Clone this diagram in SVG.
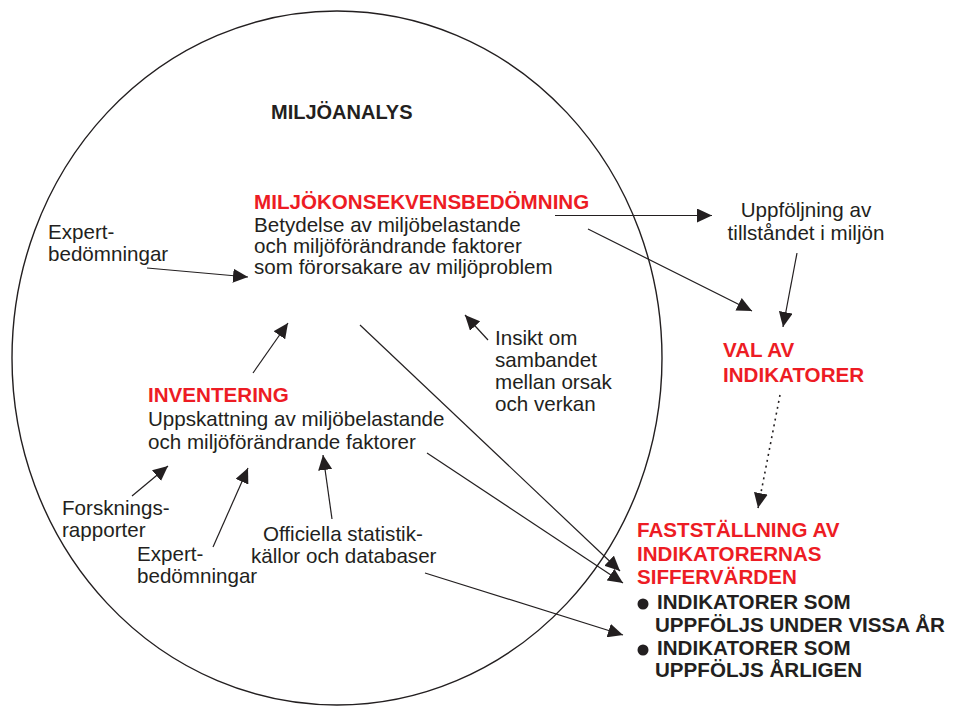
<svg xmlns="http://www.w3.org/2000/svg" width="955" height="706" viewBox="0 0 955 706">
  <defs>
    <marker id="head" markerUnits="userSpaceOnUse" markerWidth="16" markerHeight="14" refX="15" refY="7" orient="auto">
      <path d="M0,0 L15,7 L0,14 Z" fill="#231f20"/>
    </marker>
    <style>
      text { font-family: "Liberation Sans", Arial, sans-serif; font-size: 20.6px; fill: #231f20; }
      .red { fill: #ed1c24; font-weight: bold; }
      .bold { font-weight: bold; }
      .conn line { stroke: #231f20; stroke-width: 1.2; fill: none; marker-end: url(#head); }
      .dotted { stroke-dasharray: 2 4; stroke-width: 1.6 !important; }
    </style>
  </defs>
  <rect width="955" height="706" fill="#ffffff"/>

  <!-- environmental analysis boundary -->
  <g id="miljoanalys">
    <ellipse cx="337" cy="358" rx="325" ry="347" fill="none" stroke="#231f20" stroke-width="1.4"/>
    <text class="bold" x="271" y="119" style="font-size:20px">MILJÖANALYS</text>
  </g>

  <g id="konsekvens">
    <text class="red" x="254" y="209">MILJÖKONSEKVENSBEDÖMNING</text>
    <text x="254" y="232">Betydelse av miljöbelastande</text>
    <text x="254" y="253">och miljöförändrande faktorer</text>
    <text x="254" y="274">som förorsakare av miljöproblem</text>
  </g>

  <g id="expert-top">
    <text x="48" y="239">Expert-</text>
    <text x="48" y="261">bedömningar</text>
  </g>

  <g id="inventering">
    <text class="red" x="148" y="402">INVENTERING</text>
    <text x="148" y="426">Uppskattning av miljöbelastande</text>
    <text x="148" y="449">och miljöförändrande faktorer</text>
  </g>

  <g id="insikt">
    <text x="495" y="345">Insikt om</text>
    <text x="495" y="367">sambandet</text>
    <text x="495" y="389">mellan orsak</text>
    <text x="495" y="411">och verkan</text>
  </g>

  <g id="forskning">
    <text x="62" y="515">Forsknings-</text>
    <text x="62" y="537">rapporter</text>
  </g>

  <g id="expert-bottom">
    <text x="137" y="561">Expert-</text>
    <text x="137" y="583">bedömningar</text>
  </g>

  <g id="statistik">
    <text x="263" y="541">Officiella statistik-</text>
    <text x="251" y="563">källor och databaser</text>
  </g>

  <g id="uppfoljning">
    <text x="806" y="217" text-anchor="middle">Uppföljning av</text>
    <text x="806" y="240" text-anchor="middle">tillståndet i miljön</text>
  </g>

  <g id="val">
    <text class="red" x="723" y="357">VAL AV</text>
    <text class="red" x="723" y="382">INDIKATORER</text>
  </g>

  <g id="faststallning">
    <text class="red" x="637" y="537">FASTSTÄLLNING AV</text>
    <text class="red" x="637" y="561">INDIKATORERNAS</text>
    <text class="red" x="637" y="584">SIFFERVÄRDEN</text>
    <circle cx="643" cy="604" r="5.5" fill="#231f20"/>
    <text class="bold" x="657" y="609">INDIKATORER SOM</text>
    <text class="bold" x="655" y="632">UPPFÖLJS UNDER VISSA ÅR</text>
    <circle cx="643" cy="650" r="5.5" fill="#231f20"/>
    <text class="bold" x="657" y="655">INDIKATORER SOM</text>
    <text class="bold" x="655" y="677">UPPFÖLJS ÅRLIGEN</text>
  </g>

  <g id="connectors" class="conn">
    <line x1="555" y1="215.5" x2="712" y2="215.5"/>
    <line x1="588" y1="229" x2="752" y2="311"/>
    <line x1="797" y1="253" x2="783" y2="327"/>
    <line class="dotted" x1="780" y1="395" x2="758" y2="508"/>
    <line x1="147" y1="268" x2="248" y2="277"/>
    <line x1="253" y1="373" x2="288" y2="323"/>
    <line x1="488" y1="340" x2="465" y2="315"/>
    <line x1="360" y1="325" x2="620" y2="571"/>
    <line x1="427" y1="453" x2="623" y2="583"/>
    <line x1="132" y1="496" x2="168" y2="466"/>
    <line x1="213" y1="547" x2="248" y2="468"/>
    <line x1="332" y1="519" x2="323" y2="455"/>
    <line x1="425" y1="573" x2="623" y2="635"/>
  </g>
</svg>
